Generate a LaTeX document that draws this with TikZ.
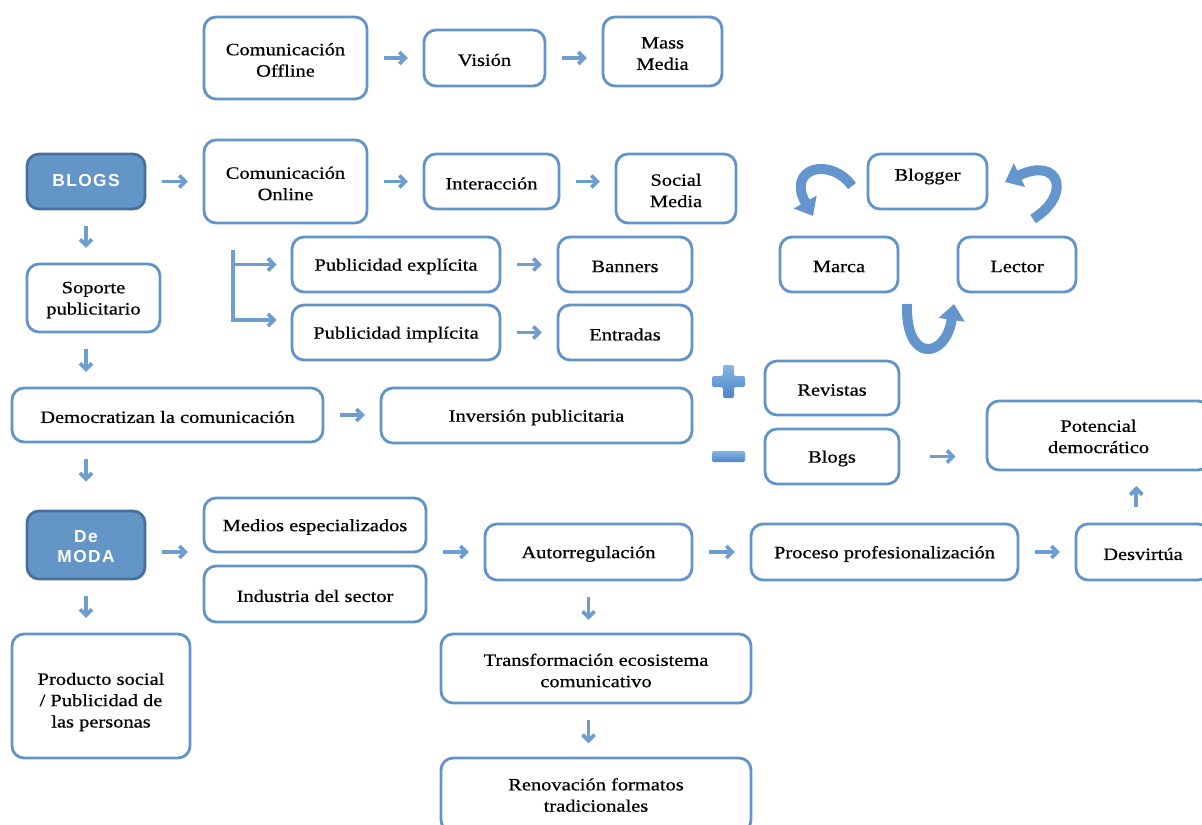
\documentclass[tikz,border=0pt]{standalone}
\usepackage{fontspec}
\setmainfont{Liberation Serif}[FakeStretch=1.18,FakeBold=0.6]
\newfontfamily\sansfam{Liberation Sans}[LetterSpace=8]
\usetikzlibrary{arrows.meta,calc}
\definecolor{boxc}{RGB}{98,148,202}
\definecolor{arrc}{RGB}{110,157,207}
\definecolor{blogf}{RGB}{99,149,198}
\definecolor{blogd}{RGB}{72,112,158}
\definecolor{crossl}{RGB}{135,180,228}
\definecolor{crossd}{RGB}{78,134,200}
\definecolor{curvc}{RGB}{100,150,205}
% [text offset]{name}{left}{top}{right}{bottom}{style}{text}
\newcommand\mybox[8][2]{%
  \node[#7, minimum width={(#5-#3)*0.75pt}, minimum height={(#6-#4)*0.75pt}] (#2) at ({(#3+#5)/2},{(#4+#6)/2}) {};
  \node[#7txt] (#2t) at ({(#3+#5)/2},{(#4+#6)/2+#1}) {#8};}
\tikzset{
  box/.style={draw=boxc, line width=2.1pt, rounded corners=9pt, fill=white, inner sep=0pt},
  darkbox/.style={box, fill=blogf, draw=blogd},
  boxtxt/.style={align=center, inner sep=0pt, text=black, font=\fontsize{13}{16}\selectfont},
  darkboxtxt/.style={align=center, inner sep=0pt, text=white, font=\sansfam\bfseries\fontsize{13}{15}\selectfont},
  arr/.style={draw=arrc, line width=2.8pt, -{Straight Barb[length=4.5pt,width=9pt]}, shorten <=12pt, shorten >=11pt},
  bline/.style={draw=arrc, line width=2.8pt},
  curvarr/.style={draw=curvc, line width=7.5pt, -{Triangle[length=12pt,width=19pt]}},
}
\begin{document}
\begin{tikzpicture}[x=0.75pt,y=-0.75pt]
\useasboundingbox (0,0) rectangle (1202,824);
\fill[white] (0,0) rectangle (1202,824);
\clip (0,0) rectangle (1202,824);
% boxes
\mybox{off}{204}{17}{367}{99}{box}{Comunicación\\Offline}
\mybox{vis}{424}{30}{545}{86}{box}{Visión}
\mybox{mass}{603}{17}{722}{86}{box}{Mass\\Media}
\mybox[-1]{blogs}{27}{154}{145}{209}{darkbox}{BLOGS}
\mybox{onl}{204}{140}{367}{223}{box}{Comunicación\\Online}
\mybox{inter}{424}{154}{559}{209}{box}{Interacción}
\mybox{soc}{616}{154}{736}{223}{box}{Social\\Media}
\mybox[-5]{blogger}{868}{154}{987}{209}{box}{Blogger}
\mybox{marca}{780}{237}{898}{292}{box}{Marca}
\mybox{lector}{958}{237}{1076}{292}{box}{Lector}
\mybox{sop}{27}{264}{160}{332}{box}{Soporte\\publicitario}
\mybox{exp}{292}{237}{500}{292}{box}{Publicidad explícita}
\mybox{ban}{558}{237}{692}{292}{box}{Banners}
\mybox{imp}{292}{305}{500}{360}{box}{Publicidad implícita}
\mybox{ent}{558}{305}{692}{360}{box}{Entradas}
\mybox{dem}{12}{388}{323}{442}{box}{Democratizan la comunicación}
\mybox{inv}{381}{388}{692}{443}{box}{Inversión publicitaria}
\mybox{rev}{765}{361}{899}{415}{box}{Revistas}
\mybox{blg}{765}{429}{899}{484}{box}{Blogs}
\mybox[1]{pot}{987}{401}{1210}{470}{box}{Potencial\\democrático}
\mybox{moda}{27}{511}{145}{579}{darkbox}{De\\MODA}
\mybox{med}{204}{498}{426}{552}{box}{Medios especializados}
\mybox{ind}{204}{566}{426}{622}{box}{Industria del sector}
\mybox{auto}{485}{524}{692}{580}{box}{Autorregulación}
\mybox{proc}{751}{524}{1018}{580}{box}{Proceso profesionalización}
\mybox{desv}{1076}{524}{1210}{580}{box}{Desvirtúa}
\mybox[6]{prod}{12}{634}{190}{758}{box}{Producto social\\/ Publicidad de\\las personas}
\mybox{trans}{441}{634}{751}{703}{box}{Transformación ecosistema\\comunicativo}
\mybox[0]{ren}{441}{758}{751}{832}{box}{Renovación formatos\\tradicionales}
% straight arrows
\draw[arr] (off.east) -- (off.east -| vis.west);
\draw[arr] (vis.east) -- (vis.east -| mass.west);
\draw[arr] (blogs.east) -- (blogs.east -| onl.west);
\draw[arr] (onl.east) -- (onl.east -| inter.west);
\draw[arr] (inter.east) -- (inter.east -| soc.west);
\draw[arr] (blogs.south) -- (blogs.south |- sop.north);
\draw[arr] (sop.south -| blogs.south) -- (dem.north -| blogs.south);
\draw[arr] (dem.east) -- (dem.east -| inv.west);
\draw[arr, shorten >=21pt] (dem.south -| blogs.south) -- (moda.north);
\draw[arr] (moda.east |- auto.west) -- (med.west |- auto.west);
\draw[arr] (med.east |- auto.west) -- (auto.west);
\draw[arr] (auto.east) -- (proc.west);
\draw[arr] (proc.east) -- (desv.west);
\draw[arr] ([xshift=-5pt]desv.north) -- ([xshift=-5pt]desv.north |- pot.south);
\draw[arr, shorten >=9.5pt] (auto.south) -- (auto.south |- trans.north);
\draw[arr, shorten >=10pt] (trans.south -| auto.south) -- (ren.north -| auto.south);
\draw[arr] (moda.south) -- (moda.south |- prod.north);
\draw[arr] (exp.east) -- (exp.east -| ban.west);
\draw[arr] (imp.east) -- (imp.east -| ent.west);
\draw[arr, shorten <=22pt, shorten >=22.5pt] (blg.east) -- (blg.east -| pot.west);
% bracket
\coordinate (brt) at (233,250);
\coordinate (brb) at (233,320);
\draw[bline] (brt) -- (brb);
\draw[arr, shorten <=-1.4pt, shorten >=10.5pt] (brt |- exp.west) -- (exp.west);
\draw[arr, shorten <=-1.4pt, shorten >=10.5pt] (brb) -- (brb -| imp.west);
% plus and minus
\shade[top color=crossl, bottom color=crossd, rounded corners=1.5pt]
  (723,365) -- (734,365) -- (734,376) -- (745,376) -- (745,387) -- (734,387) -- (734,398) -- (723,398) -- (723,387) -- (712,387) -- (712,376) -- (723,376) -- cycle;
\shade[top color=crossl, bottom color=crossd, rounded corners=1.5pt] (712,451) rectangle (745,462);
% curved arrows of the cycle
\coordinate (c1s) at (852,186);
\coordinate (c1e) at (813,216);
\coordinate (c2s) at (1033,219);
\coordinate (c2e) at (1005,182);
\coordinate (c3s) at (907,304);
\coordinate (c3e) at (954,304);
\draw[curvarr] (c1s) .. controls (830,156) and (786,168) .. (c1e);
\draw[curvarr] (c2s) .. controls (1072,195) and (1060,156) .. (c2e);
\draw[curvarr] (c3s) .. controls (905,364) and (946,359) .. (c3e);
\end{tikzpicture}
\end{document}
